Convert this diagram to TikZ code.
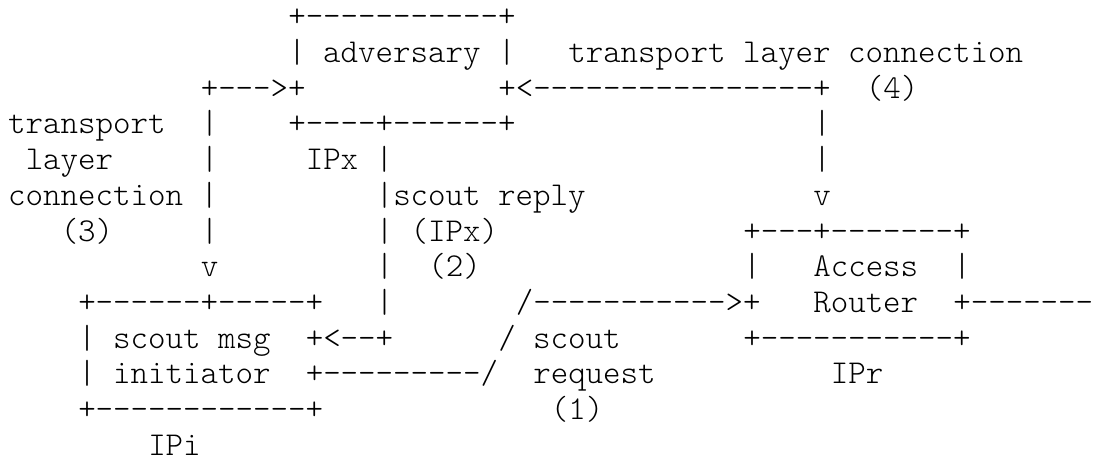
\documentclass[tikz,border=0pt]{standalone}
\usepackage{fontspec}
\setmonofont{Latin Modern Mono Light}
\tikzset{
  asc/.style={anchor=base west, inner sep=0pt, outer sep=0pt, text=black,
    font=\ttfamily\fontsize{33.33pt}{40pt}\selectfont},
}
\newcommand\cx[1]{8.25+17.5*#1}
\newcommand\ry[1]{26.8+35.7*#1}
\begin{document}
\begin{tikzpicture}[x=1pt,y=-1pt]
\fill[white] (0,0) rectangle (1104,464);
\useasboundingbox (0,0) rectangle (1104,464);
% row 0
\node[asc] (advtop) at ({\cx{16}},{\ry{0}}) {+-----------+};
% row 1
\node[asc] (adv) at ({\cx{16}},{\ry{1}}) {| adversary |};
\node[asc] (tlc4) at ({\cx{32}},{\ry{1}}) {transport layer connection};
% row 2
\node[asc] (arrA) at ({\cx{11}},{\ry{2}}) {+--->+};
\node[asc] (arrB) at ({\cx{28}},{\ry{2}}) {+<----------------+};
\node[asc] (n4) at ({\cx{49}},{\ry{2}}) {(4)};
% row 3
\node[asc] (tl3a) at ({\cx{0}},{\ry{3}}) {transport};
\node[asc] (v3a) at ({\cx{11}},{\ry{3}}) {|};
\node[asc] (advbot) at ({\cx{16}},{\ry{3}}) {+----+------+};
\node[asc] (v3b) at ({\cx{46}},{\ry{3}}) {|};
% row 4
\node[asc] (tl3b) at ({\cx{1}},{\ry{4}}) {layer};
\node[asc] (v4a) at ({\cx{11}},{\ry{4}}) {|};
\node[asc] (ipx) at ({\cx{17}},{\ry{4}}) {IPx |};
\node[asc] (v4b) at ({\cx{46}},{\ry{4}}) {|};
% row 5
\node[asc] (tl3c) at ({\cx{0}},{\ry{5}}) {connection |};
\node[asc] (sr) at ({\cx{21}},{\ry{5}}) {|scout reply};
\node[asc] (v5b) at ({\cx{46}},{\ry{5}}) {v};
% row 6
\node[asc] (n3) at ({\cx{3}},{\ry{6}}) {(3)};
\node[asc] (v6a) at ({\cx{11}},{\ry{6}}) {|};
\node[asc] (srx) at ({\cx{21}},{\ry{6}}) {| (IPx)};
\node[asc] (artop) at ({\cx{42}},{\ry{6}}) {+---+-------+};
% row 7
\node[asc] (v7a) at ({\cx{11}},{\ry{7}}) {v};
\node[asc] (v7b) at ({\cx{21}},{\ry{7}}) {|};
\node[asc] (n2) at ({\cx{24}},{\ry{7}}) {(2)};
\node[asc] (arl1) at ({\cx{42}},{\ry{7}}) {|};
\node[asc] (acc) at ({\cx{46}},{\ry{7}}) {Access};
\node[asc] (arr1) at ({\cx{54}},{\ry{7}}) {|};
% row 8
\node[asc] (initop) at ({\cx{4}},{\ry{8}}) {+------+-----+};
\node[asc] (v8) at ({\cx{21}},{\ry{8}}) {|};
\node[asc] (req) at ({\cx{29}},{\ry{8}}) {/----------->+};
\node[asc] (rou) at ({\cx{46}},{\ry{8}}) {Router};
\node[asc] (out) at ({\cx{54}},{\ry{8}}) {+-------};
% row 9
\node[asc] (sm) at ({\cx{4}},{\ry{9}}) {| scout msg};
\node[asc] (rep) at ({\cx{17}},{\ry{9}}) {+<--+};
\node[asc] (sc) at ({\cx{28}},{\ry{9}}) {/ scout};
\node[asc] (arbot) at ({\cx{42}},{\ry{9}}) {+-----------+};
% row 10
\node[asc] (ini) at ({\cx{4}},{\ry{10}}) {| initiator};
\node[asc] (reqa) at ({\cx{17}},{\ry{10}}) {+---------/};
\node[asc] (rq) at ({\cx{30}},{\ry{10}}) {request};
\node[asc] (ipr) at ({\cx{47}},{\ry{10}}) {IPr};
% row 11
\node[asc] (inibot) at ({\cx{4}},{\ry{11}}) {+------------+};
\node[asc] (n1) at ({\cx{31}},{\ry{11}}) {(1)};
% row 12
\node[asc] (ipi) at ({\cx{8}},{\ry{12}}) {IPi};
\end{tikzpicture}
\end{document}
